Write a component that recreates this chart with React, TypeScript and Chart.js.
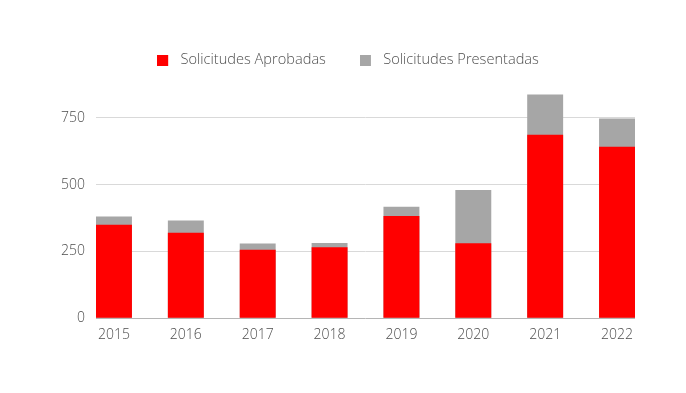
import React, { useEffect, useRef } from "react";
import { Chart, registerables } from "chart.js";

Chart.register(...registerables);

const years = ["2015", "2016", "2017", "2018", "2019", "2020", "2021", "2022"];
const aprobadas = [350, 320, 256, 265, 382, 280, 686, 641];
const presentadas = [380, 365, 279, 281, 417, 480, 837, 747];
const seriesNames = ["Solicitudes Aprobadas", "Solicitudes Presentadas"];
const yTicks = [0, 250, 500, 750];

const RED = "#ff0000";
const GREY = "#a6a6a6";
const FONT = "'Open Sans', sans-serif";

function makeSwatch(color: string): HTMLCanvasElement {
  const c = document.createElement("canvas");
  c.width = 16;
  c.height = 11;
  const ctx = c.getContext("2d")!;
  ctx.fillStyle = color;
  ctx.fillRect(0, 0, 11, 11);
  return c;
}

export default function App() {
  const ref = useRef<HTMLCanvasElement>(null);

  useEffect(() => {
    if (!ref.current) return;
    const swatches = [makeSwatch(RED), makeSwatch(GREY)];
    const chart = new Chart(ref.current, {
      type: "bar",
      data: {
        datasets: [
          {
            label: seriesNames[0],
            data: aprobadas.map((v, i) => ({ x: i, y: v })),
            backgroundColor: RED,
            grouped: false,
            categoryPercentage: 1,
            barPercentage: 0.5,
          },
          {
            label: seriesNames[1],
            data: presentadas.map((v, i) => ({ x: i, y: v })),
            backgroundColor: GREY,
            grouped: false,
            categoryPercentage: 1,
            barPercentage: 0.5,
          },
        ],
      },
      options: {
        animation: false,
        responsive: true,
        maintainAspectRatio: false,
        layout: { padding: { top: 11, bottom: 34, left: 53, right: 43 } },
        plugins: {
          tooltip: { enabled: false },
          legend: {
            position: "top",
            labels: {
              usePointStyle: true,
              pointStyleWidth: 16,
              boxHeight: 11,
              padding: 34,
              color: "#4d4d4d",
              font: { family: FONT, size: 14.6, weight: "300" },
              generateLabels: (chart: any) => {
                const items = Chart.defaults.plugins.legend.labels.generateLabels(chart);
                return items.map((it: any, i: number) => ({ ...it, pointStyle: swatches[i] }));
              },
            },
          },
        },
        scales: {
          x: {
            type: "linear",
            offset: false,
            min: -0.25,
            max: 7.25,
            grid: { display: false, drawTicks: false },
            border: { display: false },
            ticks: {
              stepSize: 1,
              includeBounds: false,
              padding: 8,
              color: "#4d4d4d",
              font: { family: FONT, size: 14, weight: "300" },
              callback: (v: any) => years[v as number] ?? "",
              maxRotation: 0,
              autoSkip: false,
            },
          },
          y: {
            min: 0,
            max: 900,
            border: { display: false },
            grid: {
              drawTicks: false,
              color: (ctx: any) => (ctx.tick && ctx.tick.value === 0 ? "#b5b5b5" : "#d9d9d9"),
            },
            afterBuildTicks: (axis: any) => {
              axis.ticks = yTicks.map((v) => ({ value: v }));
            },
            afterFit: (axis: any) => {
              axis.width = 35;
            },
            ticks: {
              padding: 11,
              color: "#4d4d4d",
              font: { family: FONT, size: 14, weight: "300" },
            },
          },
        },
      },
    });
    return () => chart.destroy();
  }, []);

  return (
    <div style={{ width: 670, height: 377, position: "relative" }}>
      <canvas ref={ref} />
    </div>
  );
}
